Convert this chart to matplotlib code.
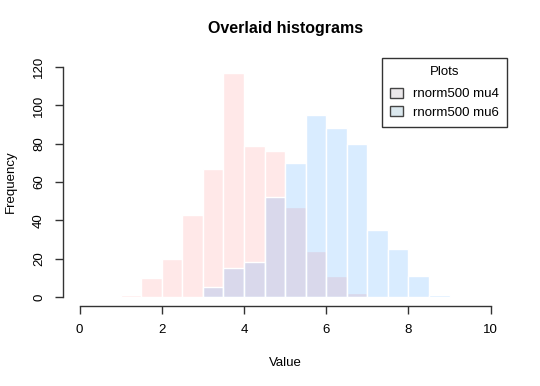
import matplotlib.pyplot as plt
from matplotlib.patches import Patch

plt.rcParams['font.family'] = ['Liberation Sans', 'DejaVu Sans']

# histogram bins (left edges, width 0.5) and counts
mu4_left = [1.0, 1.5, 2.0, 2.5, 3.0, 3.5, 4.0, 4.5, 5.0, 5.5, 6.0, 6.5]
mu4_count = [1, 10, 20, 43, 67, 117, 79, 76, 47, 24, 11, 2]
mu6_left = [3.0, 3.5, 4.0, 4.5, 5.0, 5.5, 6.0, 6.5, 7.0, 7.5, 8.0, 8.5]
mu6_count = [5, 15, 18, 52, 70, 95, 88, 80, 35, 25, 11, 1]
labels = ['rnorm500 mu4', 'rnorm500 mu6']
xticks = [0, 2, 4, 6, 8, 10]
yticks = [0, 20, 40, 60, 80, 100, 120]

red = (1, 0, 0, 0.09)
blue = (0, 0.5, 1, 0.15)

fig = plt.figure(figsize=(5.4, 3.86), dpi=100)
ax = fig.add_axes([0.117, 0.207, 0.822, 0.643])

ax.bar(mu4_left, mu4_count, width=0.5, align='edge', color=red,
       edgecolor='white', linewidth=1)
ax.bar(mu6_left, mu6_count, width=0.5, align='edge', color=blue,
       edgecolor='white', linewidth=1)

ax.set_xlim(-0.4, 10.4)
ax.set_ylim(-4.8, 124.8)
ax.set_xticks(xticks)
ax.set_yticks(yticks)
ax.set_yticklabels([str(v) for v in yticks], rotation=90, va='center')
for s in ['top', 'right']:
    ax.spines[s].set_visible(False)
ax.spines['bottom'].set_bounds(0, 10)
ax.spines['left'].set_bounds(0, 120)
for s in ['bottom', 'left']:
    ax.spines[s].set_color('#333333')
    ax.spines[s].set_linewidth(1)
ax.tick_params(length=6, width=1, color='#333333', labelsize=9.5, pad=7)

ax.set_xlabel('Value', fontsize=9.5, labelpad=15)
ax.set_ylabel('Frequency', fontsize=9.5, labelpad=12)
ax.set_title('Overlaid histograms', fontsize=11.5, fontweight='bold', pad=18)

handles = [Patch(facecolor='#ebe8ea', edgecolor='#444444', linewidth=1),
           Patch(facecolor='#dbe8ee', edgecolor='#444444', linewidth=1)]
leg = ax.legend(handles, labels, title='Plots', loc='upper right',
                bbox_to_anchor=(1.0, 1.0), borderaxespad=0.0,
                fontsize=9.5, title_fontsize=9.5,
                frameon=True, fancybox=False, edgecolor='black',
                handlelength=1.0, handleheight=0.8, borderpad=0.6,
                labelspacing=0.45, handletextpad=0.8)
leg.get_frame().set_linewidth(1)
leg._legend_box.sep = 7

fig.savefig('out.png', dpi=100)
